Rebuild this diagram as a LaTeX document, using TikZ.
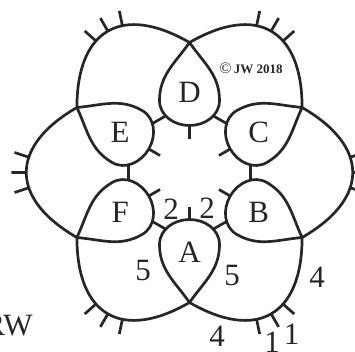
\documentclass[tikz,border=0pt]{standalone}
\usepackage{fontspec}
\setmainfont{Liberation Serif}
\usetikzlibrary{decorations.markings}

\begin{document}
\begin{tikzpicture}[x=1pt,y=1pt,line width=2.7pt,color=black!85,
  lbl/.style={font=\fontsize{31}{31}\selectfont,inner sep=0pt},
  hairs/.style={postaction={decorate},decoration={markings,
    mark=at position 0.41 with {\draw (0,0) -- (0,15);},
    mark=at position 0.5 with {\draw (0,0) -- (0,15);},
    mark=at position 0.59 with {\draw (0,0) -- (0,15);}}}]
  \useasboundingbox (-189.5,-178.5) rectangle (165.5,172.5);
  \clip (-189.5,-178.5) rectangle (165.5,172.5);

  % petals
  \foreach \n/\r in {D/0,C/-60,B/-120,A/180,F/120,E/60}{
    \begin{scope}[rotate=\r]
      \draw (0,130) coordinate (\n-v) to[out=-55,in=90] (30,72)
        to[out=-90,in=0] coordinate[pos=0.4] (\n-r) (0,47)
        to[out=180,in=-90] coordinate[pos=0.6] (\n-l) (-30,72)
        to[out=90,in=-125] (0,130);
      \draw (0,47) -- (0,34);
      \node[lbl] (\n) at (0,80) {\n};
    \end{scope}
  }

  % links and outer loops
  \foreach \n/\m/\r in {D/C/0,C/B/-60,B/A/-120,A/F/180,F/E/120,E/D/60}{
    \draw (\n-r) -- (\m-l);
    \draw[hairs] (\n-v) .. controls +(\r+30:78) and +(\r+90:78) .. (\m-v);
  }

  \node[lbl] (two-l) at (-18.5,-36.5) {2};
  \node[lbl] (two-r) at (17.5,-35.5) {2};
  \node[lbl] (five-l) at (-46.5,-97.5) {5};
  \node[lbl] (five-r) at (42.5,-102.5) {5};
  \node[lbl] (four-r) at (127.5,-104.5) {4};
  \node[lbl] (four-b) at (27.5,-164) {4};
  \node[lbl] (one-a) at (82.5,-169.5) {1};
  \node[lbl] (one-b) at (102,-161.5) {1};
  \node[lbl,anchor=east] (rw) at (-155.5,-153.5) {RW};
  \node[inner sep=0pt,font=\bfseries\fontsize{13}{13}\selectfont] (copy) at (61.5,104.5)
    {{\mdseries\fontsize{16}{16}\selectfont ©}\,JW 2018};
\end{tikzpicture}
\end{document}
